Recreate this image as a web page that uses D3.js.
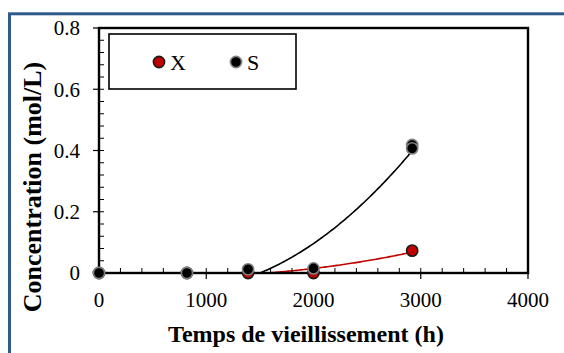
<!DOCTYPE html>
<html>
<head>
<meta charset="utf-8">
<script src="https://cdn.jsdelivr.net/npm/d3@7"></script>
<style>
  html, body { margin: 0; padding: 0; background: #fff; }
  svg { display: block; }
  text { font-family: 'Liberation Serif', 'Times New Roman', serif; }
</style>
</head>
<body>
<script>
// ---- Data ----
const xTickValues = [0, 1000, 2000, 3000, 4000];
const xTickLabels = ["0", "1000", "2000", "3000", "4000"];
const yTickValues = [0, 0.2, 0.4, 0.6, 0.8];
const yTickLabels = ["0", "0.2", "0.4", "0.6", "0.8"];
const seriesNames = ["X", "S"];
const timeX = [0, 820, 1390, 2000, 2920];
const valuesX = [0, 0, 0, 0, 0.073];
const timeS = [0, 820, 1390, 2000, 2920, 2920];
const valuesS = [0, 0, 0.012, 0.015, 0.418, 0.407];

// ---- Layout ----
const W = 564, H = 353;
const pL = 99, pR = 528, pT = 28, pB = 273;
const FONT = "'Liberation Serif', 'Times New Roman', serif";

const svg = d3.select("body").append("svg").attr("width", W).attr("height", H);

// outer blue frame (extends beyond the view)
svg.append("rect").attr("x", 9.5).attr("y", 13.8).attr("width", 600).attr("height", 400)
  .attr("fill", "none").attr("stroke", "#2E5A8C").attr("stroke-width", 3);

const x = d3.scaleLinear().domain([0, 4000]).range([pL, pR]);
const y = d3.scaleLinear().domain([0, 0.8]).range([pB, pT]);

// polynomial (order 2, intercept 0) least-squares trendline from the data
function fitQuad(xs, ys) {
  let s4 = 0, s3 = 0, s2 = 0, sxy = 0, sx2y = 0;
  xs.forEach((xv, i) => {
    const t = xv / 1000, v = ys[i];
    s4 += t ** 4; s3 += t ** 3; s2 += t ** 2; sxy += t * v; sx2y += t * t * v;
  });
  const det = s4 * s2 - s3 * s3;
  const a = (sx2y * s2 - s3 * sxy) / det;
  const b = (s4 * sxy - s3 * sx2y) / det;
  return t => a * (t / 1000) ** 2 + b * (t / 1000);
}

const clipId = "plotclip";
svg.append("clipPath").attr("id", clipId).append("rect")
  .attr("x", pL).attr("y", pT).attr("width", pR - pL).attr("height", pB - pT);

const line = d3.line().x(d => x(d[0])).y(d => y(d[1]));
function drawTrend(ts, vs, color) {
  const f = fitQuad(ts, vs);
  const t0 = d3.min(ts), t1 = d3.max(ts);
  const pts = d3.range(0, 201).map(i => {
    const t = t0 + (t1 - t0) * i / 200;
    return [t, Math.max(0, f(t))];
  });
  svg.append("path").datum(pts).attr("d", line).attr("fill", "none")
    .attr("stroke", color).attr("stroke-width", 1.6).attr("clip-path", `url(#${clipId})`);
}
drawTrend(timeS, valuesS, "#000");
drawTrend(timeX, valuesX, "#C00000");

// plot frame
svg.append("rect").attr("x", pL).attr("y", pT).attr("width", pR - pL).attr("height", pB - pT)
  .attr("fill", "none").attr("stroke", "#000").attr("stroke-width", 2.4);

// Y axis: major ticks outside, minor ticks inside
const yMinor = d3.range(0, 0.8001, 0.04);
svg.append("g").selectAll("line").data(yMinor).join("line")
  .attr("x1", pL).attr("x2", pL + 5).attr("y1", d => y(d)).attr("y2", d => y(d))
  .attr("stroke", "#000").attr("stroke-width", 1);
svg.append("g").selectAll("line").data(yTickValues).join("line")
  .attr("x1", pL - 6).attr("x2", pL).attr("y1", d => y(d)).attr("y2", d => y(d))
  .attr("stroke", "#000").attr("stroke-width", 1.2);
svg.append("g").selectAll("text").data(yTickValues).join("text")
  .attr("x", 80).attr("y", d => y(d)).attr("dy", "0.35em").attr("text-anchor", "end")
  .style("font-family", FONT).attr("font-size", 21)
  .attr("fill", "#000").text((d, i) => yTickLabels[i]);

// X axis: major ticks outside, minor ticks inside
const xMinor = d3.range(0, 4001, 200);
svg.append("g").selectAll("line").data(xMinor).join("line")
  .attr("x1", d => x(d)).attr("x2", d => x(d)).attr("y1", pB).attr("y2", pB - 5)
  .attr("stroke", "#000").attr("stroke-width", 1);
svg.append("g").selectAll("line").data(xTickValues).join("line")
  .attr("x1", d => x(d)).attr("x2", d => x(d)).attr("y1", pB).attr("y2", pB + 6)
  .attr("stroke", "#000").attr("stroke-width", 1.2);
svg.append("g").selectAll("text").data(xTickValues).join("text")
  .attr("x", d => x(d)).attr("y", 307).attr("text-anchor", "middle")
  .style("font-family", FONT).attr("font-size", 21)
  .attr("fill", "#000").text((d, i) => xTickLabels[i]);

// axis titles
svg.append("text").attr("x", 306).attr("y", 342).attr("text-anchor", "middle")
  .style("font-family", FONT).attr("font-size", 24)
  .attr("font-weight", "bold").attr("fill", "#000").text("Temps de vieillissement (h)");
svg.append("text").attr("transform", "translate(41,187) rotate(-90)").attr("text-anchor", "middle")
  .style("font-family", FONT).attr("font-size", 26)
  .attr("font-weight", "bold").attr("fill", "#000").text("Concentration (mol/L)");

// markers
const styles = {
  X: { fill: "#C00000", stroke: "#1a1a1a" },
  S: { fill: "#000000", stroke: "#808080" }
};
function drawPoints(ts, vs, st) {
  svg.append("g").selectAll("circle").data(ts.map((t, i) => [t, vs[i]])).join("circle")
    .attr("cx", d => x(d[0])).attr("cy", d => y(d[1])).attr("r", 5.6)
    .attr("fill", st.fill).attr("stroke", st.stroke).attr("stroke-width", 1.6);
}
drawPoints(timeX, valuesX, styles.X);
drawPoints(timeS, valuesS, styles.S);

// legend
const lg = svg.append("g");
lg.append("rect").attr("x", 109).attr("y", 34).attr("width", 187).attr("height", 55)
  .attr("fill", "#fff").attr("stroke", "#000").attr("stroke-width", 1.6);
const legPos = [159, 236];
seriesNames.forEach((name, i) => {
  lg.append("circle").attr("cx", legPos[i]).attr("cy", 62).attr("r", 5.6)
    .attr("fill", styles[name].fill).attr("stroke", styles[name].stroke).attr("stroke-width", 1.6);
  lg.append("text").attr("x", legPos[i] + 11).attr("y", 69.5)
    .style("font-family", FONT).attr("font-size", 22)
    .attr("fill", "#000").text(name);
});
</script>
</body>
</html>
